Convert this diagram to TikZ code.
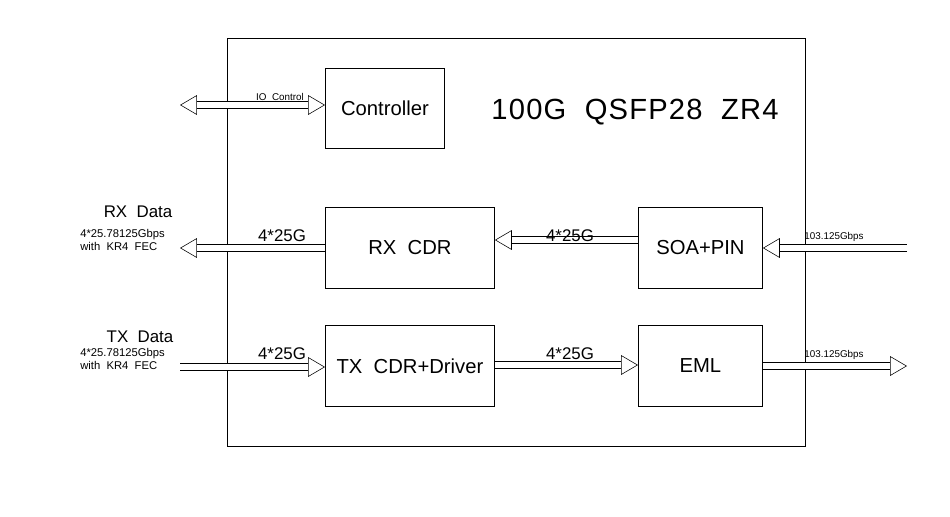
\documentclass[tikz,border=0pt]{standalone}
\usepackage{fontspec}
\setmainfont{Liberation Sans}[WordSpace=2]
\usetikzlibrary{arrows.meta}

\tikzset{
  blk/.style={draw,semithick,minimum width=#1,anchor=north west,inner sep=0pt,font=\Large},
  fat/.style={draw,double,double distance=4.5pt,thin,-{Triangle[open,length=12pt,width=14pt]}},
  fatboth/.style={fat,{Triangle[open,length=12pt,width=14pt]}-{Triangle[open,length=12pt,width=14pt]}},
  lbl/.style={font=\large,inner sep=1pt,anchor=south},
  tiny/.style={font=\scriptsize,inner sep=1pt,anchor=south},
  sub/.style={font=\footnotesize,align=left,inner sep=0pt,anchor=west},
}

\begin{document}
\begin{tikzpicture}[x=0.025cm,y=-0.025cm]
  \useasboundingbox (0,0) rectangle (950,516);
  \draw[thin] (227,38) rectangle (805,446);
  \node[font=\huge\addfontfeature{LetterSpace=4}] (title) at (635,112) {100G QSFP28 ZR4};

  % blocks
  \node[blk=2.975cm,minimum height=2cm] (ctrl) at (325,68) {Controller};
  \node[blk=4.225cm,minimum height=2.025cm] (rxcdr) at (325,207) {RX CDR};
  \node[blk=3.1cm,minimum height=2.025cm] (soa) at (638,207) {SOA+PIN};
  \node[blk=4.225cm,minimum height=2.025cm] (txcdr) at (325,325) {TX CDR+Driver};
  \node[blk=3.1cm,minimum height=2.025cm] (eml) at (638,325) {EML};

  % free ends
  \coordinate (io) at (180,105);
  \coordinate (rxout) at (180,248);
  \coordinate (rxin) at (907,248);
  \coordinate (txin) at (180,367);
  \coordinate (txout) at (907,366);

  % connectors
  \draw[fatboth] (io) -- (ctrl.west |- io);
  \draw[fat] (rxcdr.west |- rxout) -- (rxout);
  \draw[fat] (soa.west |- 0,240) -- (rxcdr.east |- 0,240);
  \draw[fat] (rxin) -- (soa.east |- rxin);
  \draw[fat] (txin) -- (txcdr.west |- txin);
  \draw[fat] (txcdr.east |- 0,365) -- (eml.west |- 0,365);
  \draw[fat] (eml.east |- txout) -- (txout);

  % labels
  \node[tiny] (iol) at (280,102) {IO Control};
  \node[lbl] (l1) at (282,243) {4*25G};
  \node[lbl] (l2) at (570,243) {4*25G};
  \node[lbl] (l3) at (282,361) {4*25G};
  \node[lbl] (l4) at (570,361) {4*25G};
  \node[tiny] (r1) at (834,243) {103.125Gbps};
  \node[tiny] (r2) at (834,361) {103.125Gbps};
  \node[font=\large] (rxd) at (138,212) {RX Data};
  \node[sub] (rxs) at (80,240) {4*25.78125Gbps\\with KR4 FEC};
  \node[font=\large] (txd) at (140,337) {TX Data};
  \node[sub] (txs) at (80,359) {4*25.78125Gbps\\with KR4 FEC};
\end{tikzpicture}
\end{document}
